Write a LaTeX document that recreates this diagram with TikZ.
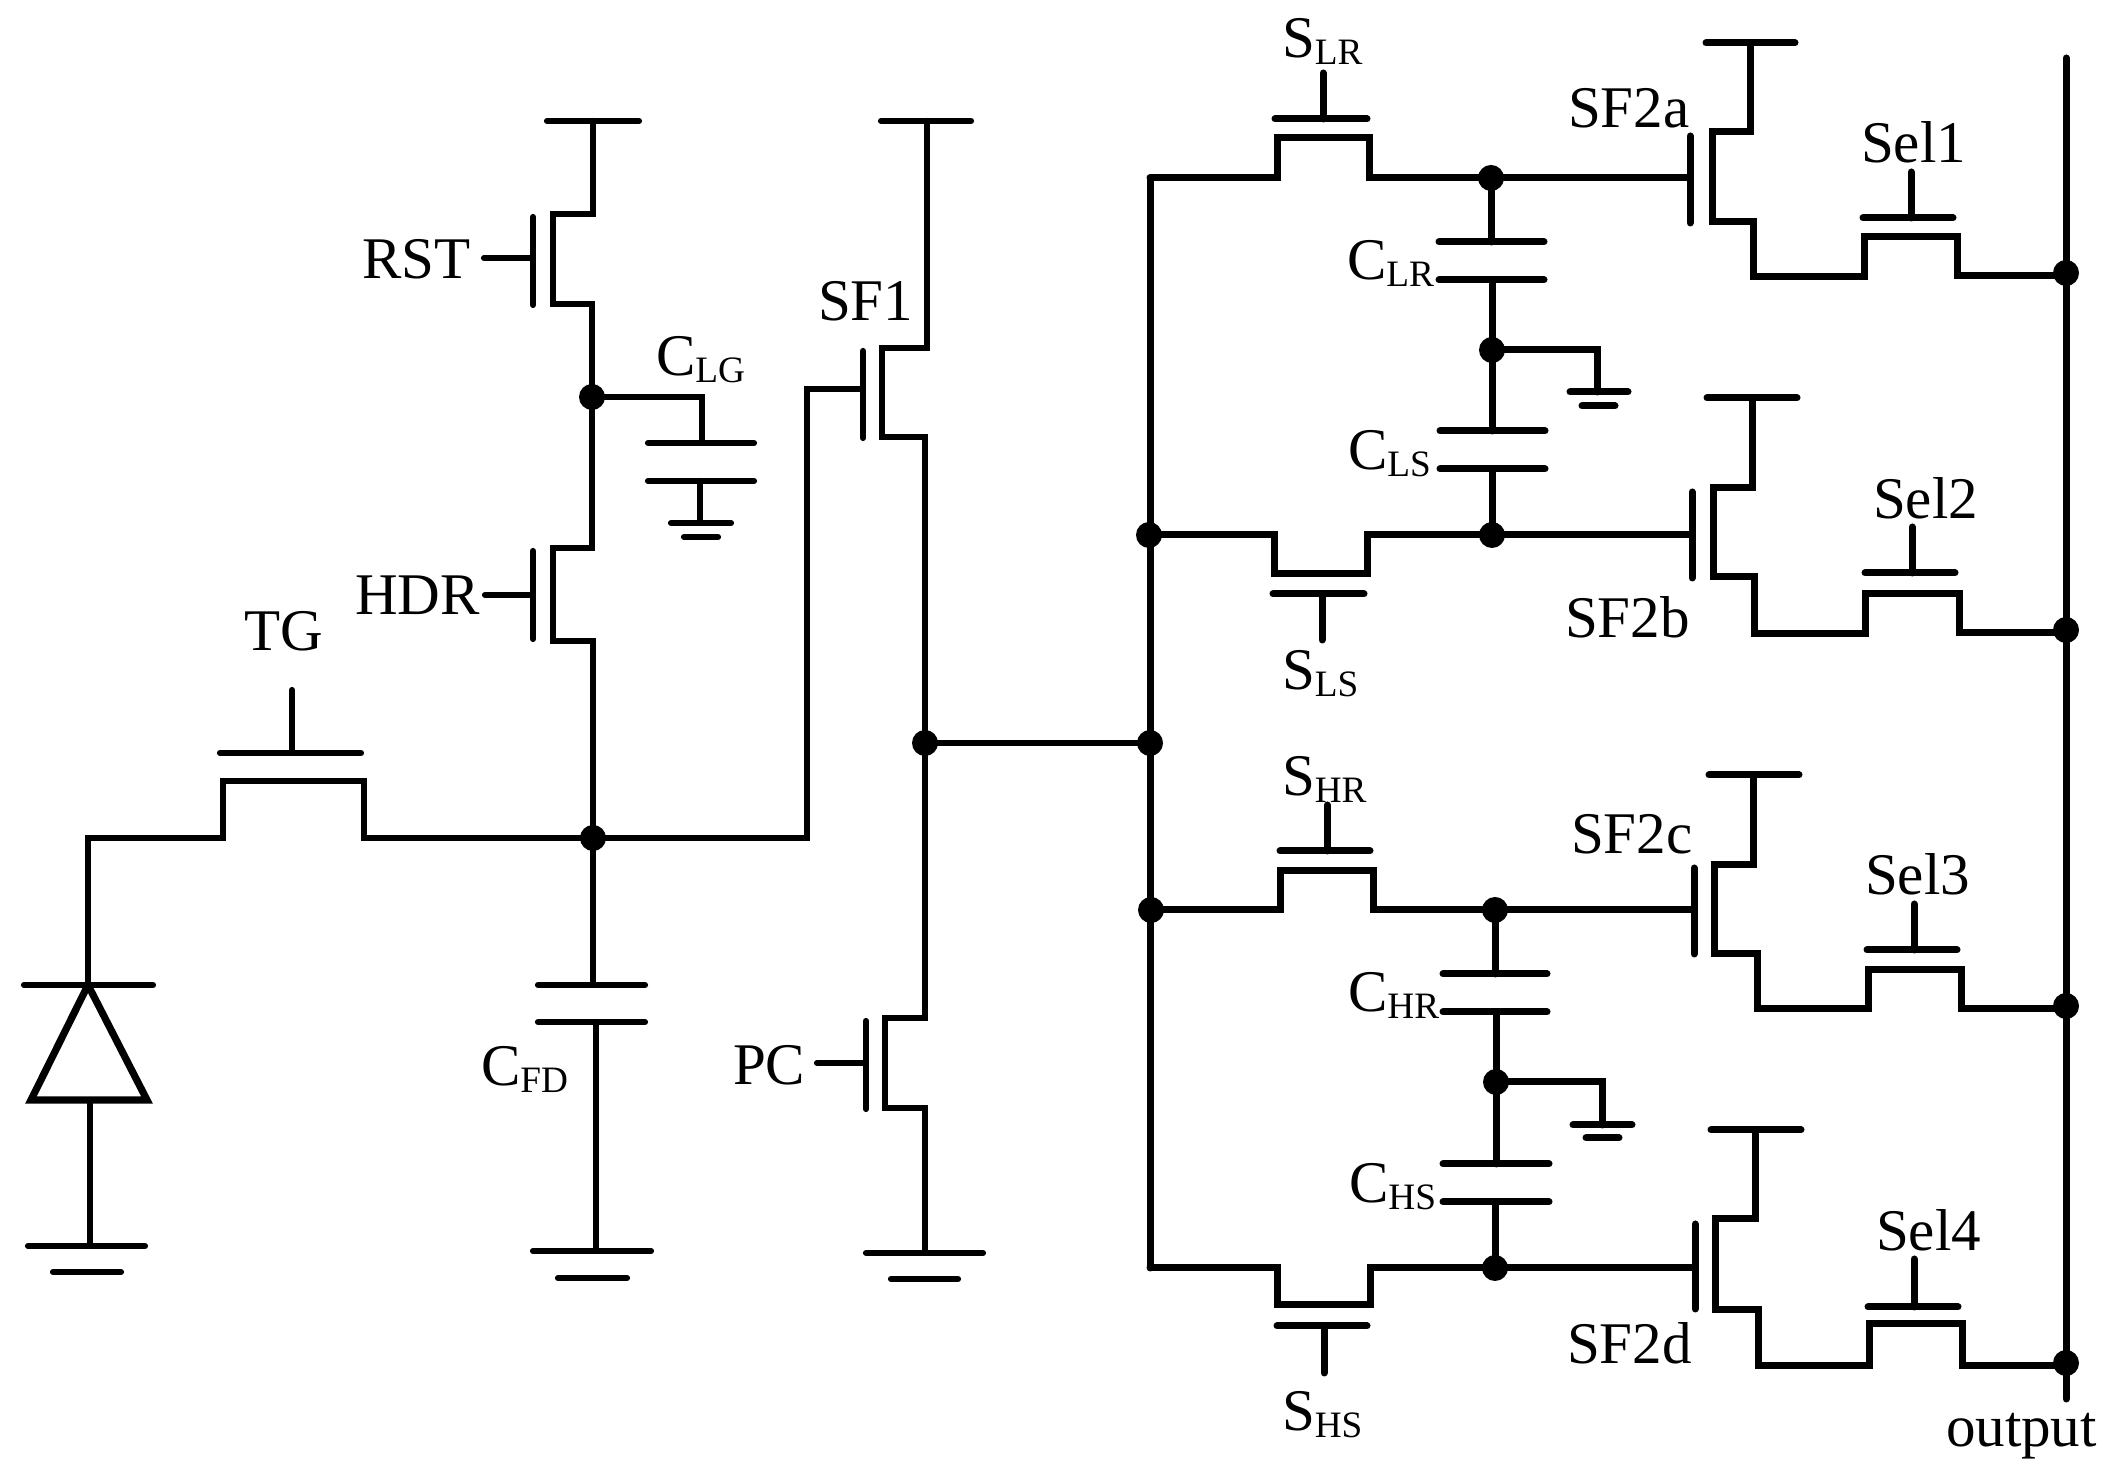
\documentclass[tikz,border=0pt]{standalone}
\usepackage{fontspec}
\setmainfont{Liberation Serif}
\newcommand{\lblsub}[2]{#1\raisebox{-1.9pt}{\fontsize{10.6}{11}\selectfont #2}}
\begin{document}
\begin{tikzpicture}[x=0.1mm,y=-0.1mm,
  wire/.style={line width=0.62mm,line cap=round,line join=miter,black},
  wirer/.style={line width=0.7mm,line cap=round,line join=miter,black},
  plate/.style={wire,shorten <=0.3mm,shorten >=0.3mm},
  plater/.style={wirer,shorten <=0.3mm,shorten >=0.3mm},
  dot/.style={circle,fill=black,draw=none,minimum size=2.6mm,inner sep=0pt},
  lbl/.style={anchor=base west,inner sep=0pt,outer sep=0pt,font=\fontsize{16.8}{18}\selectfont}]
\useasboundingbox (0,0) rectangle (2119,1469);
\fill[white] (0,0) rectangle (2119,1469);
% junctions
\node[dot] (fd) at (593,838) {};
\node[dot] (lg) at (592,397) {};
\node[dot] (pcn) at (925,743) {};
\node[dot] (busm) at (1150,743) {};
\node[dot] (bust) at (1149,535) {};
\node[dot] (busb) at (1151,910) {};
\node[dot] (lr) at (1491,178) {};
\node[dot] (gl) at (1492,350) {};
\node[dot] (ls) at (1492,535) {};
\node[dot] (hr) at (1495,910) {};
\node[dot] (gh) at (1496,1082) {};
\node[dot] (hs) at (1495,1268) {};
\node[dot] (o1) at (2066,273) {};
\node[dot] (o2) at (2066,630) {};
\node[dot] (o3) at (2066,1006) {};
\node[dot] (o4) at (2066,1363) {};
\coordinate (pdtop) at (88,985);
\coordinate (bustop) at (1150,178);
\coordinate (busend) at (1150,1268);
% photodiode
\draw[plate] (21,985) -- (156,985);
\draw[wire,line width=0.72mm,line join=miter] (pdtop) -- (147,1100) -- (31,1100) -- cycle;
\draw[wire] (90,1100) -- (90,1246);
\draw[plate] (25,1246) -- (148,1246);
\draw[plate] (50,1272) -- (124,1272);
% TG
\draw[wire] (pdtop) -- (88,838) -- (223,838) -- (223,781) -- (364,781) -- (364,838) -- (fd.center);
\draw[plate] (217,753) -- (364,753);
\draw[wire] (292,690) -- (292,753);
% CFD
\draw[wire] (fd.center) -- (593,985);
\draw[plate] (535,985) -- (648,985);
\draw[plate] (535,1022) -- (648,1022);
\draw[wire] (596,1022) -- (596,1251);
\draw[plate] (530,1251) -- (654,1251);
\draw[plate] (555,1278) -- (630,1278);
% RST
\draw[plate] (544,121) -- (642,121);
\draw[wire] (593,121) -- (593,214) -- (553,214) -- (553,304) -- (592,304) -- (lg.center);
\draw[plate] (533,214) -- (533,308);
\draw[wire] (484,258) -- (533,258);
% CLG
\draw[wire] (lg.center) -- (702,397) -- (702,443);
\draw[plate] (645,443) -- (757,443);
\draw[plate] (645,481) -- (757,481);
\draw[wire] (700,481) -- (700,523);
\draw[plate] (668,523) -- (734,523);
\draw[plate] (681,537) -- (721,537);
% HDR
\draw[wire] (lg.center) -- (592,548) -- (553,548) -- (553,641) -- (593,641) -- (fd.center);
\draw[plate] (533,548) -- (533,642);
\draw[wire] (485,595) -- (533,595);
% SF1
\draw[wire] (fd.center) -- (807,838) -- (807,389) -- (863,389);
\draw[plate] (863,348) -- (863,441);
\draw[plate] (878,121) -- (974,121);
\draw[wire] (927,121) -- (927,348) -- (882,348) -- (882,437) -- (925,437) -- (pcn.center);
% PC
\draw[wire] (pcn.center) -- (925,1018) -- (885,1018) -- (885,1108) -- (925,1108) -- (925,1253);
\draw[plate] (866,1018) -- (866,1112);
\draw[wire] (817,1063) -- (866,1063);
\draw[plate] (863,1253) -- (986,1253);
\draw[plate] (888,1279) -- (961,1279);
% bus
\draw[wire] (pcn.center) -- (busm.center);
\draw[wirer] (bustop) -- (busend);
% S_LR
\draw[wirer] (bustop) -- (1277,178) -- (1277,138) -- (1369,138) -- (1369,178) -- (lr.center) -- (1690,178);
\draw[plater] (1272,119) -- (1370,119);
\draw[wirer] (1323,73) -- (1323,119);
% C_LR C_LS
\draw[wirer] (lr.center) -- (1491,242);
\draw[plater] (1436,242) -- (1547,242);
\draw[plater] (1436,280) -- (1547,280);
\draw[wirer] (1492,280) -- (gl.center) -- (1492,431);
\draw[wirer] (gl.center) -- (1597,350) -- (1597,392);
\draw[plater] (1567,392) -- (1631,392);
\draw[plater] (1579,406) -- (1618,406);
\draw[plater] (1437,431) -- (1548,431);
\draw[plater] (1437,469) -- (1548,469);
\draw[wirer] (1492,469) -- (ls.center);
% S_LS
\draw[wirer] (bust.center) -- (1274,535) -- (1274,574) -- (1367,574) -- (1367,535) -- (ls.center) -- (1692,535);
\draw[plater] (1270,594) -- (1367,594);
\draw[wirer] (1322,594) -- (1322,640);
% SF2a
\draw[plater] (1690,133) -- (1690,226);
\draw[plater] (1703,43) -- (1798,43);
\draw[wirer] (1750,43) -- (1750,132) -- (1712,132) -- (1712,222) -- (1753,222) -- (1753,277) -- (1864,277) -- (1864,237) -- (1957,237) -- (1957,276) -- (o1.center |- 0,276);
\draw[plater] (1860,218) -- (1956,218);
\draw[wirer] (1911,172) -- (1911,218);
% SF2b
\draw[plater] (1692,489) -- (1692,581);
\draw[plater] (1704,398) -- (1800,398);
\draw[wirer] (1752,398) -- (1752,488) -- (1713,488) -- (1713,577) -- (1754,577) -- (1754,634) -- (1865,634) -- (1865,594) -- (1959,594) -- (1959,633) -- (o2.center |- 0,633);
\draw[plater] (1862,573) -- (1958,573);
\draw[wirer] (1912,527) -- (1912,573);
% S_HR
\draw[wirer] (busb.center) -- (1280,910) -- (1280,871) -- (1373,871) -- (1373,910) -- (hr.center) -- (1694,910);
\draw[plater] (1277,851) -- (1373,851);
\draw[wirer] (1327,805) -- (1327,851);
% C_HR C_HS
\draw[wirer] (hr.center) -- (1495,974);
\draw[plater] (1440,974) -- (1550,974);
\draw[plater] (1440,1012) -- (1550,1012);
\draw[wirer] (1496,1012) -- (gh.center) -- (1496,1164);
\draw[wirer] (gh.center) -- (1602,1082) -- (1602,1125);
\draw[plater] (1570,1125) -- (1635,1125);
\draw[plater] (1583,1138) -- (1622,1138);
\draw[plater] (1440,1164) -- (1552,1164);
\draw[plater] (1440,1202) -- (1552,1202);
\draw[wirer] (1495,1202) -- (hs.center);
% S_HS
\draw[wirer] (busend) -- (1277,1268) -- (1277,1305) -- (1370,1305) -- (1370,1268) -- (hs.center) -- (1695,1268);
\draw[plater] (1274,1326) -- (1370,1326);
\draw[wirer] (1324,1326) -- (1324,1373);
% SF2c
\draw[plater] (1694,865) -- (1694,957);
\draw[plater] (1706,775) -- (1802,775);
\draw[wirer] (1753,775) -- (1753,865) -- (1714,865) -- (1714,954) -- (1757,954) -- (1757,1009) -- (1868,1009) -- (1868,970) -- (1961,970) -- (1961,1009) -- (o3.center |- 0,1009);
\draw[plater] (1864,950) -- (1960,950);
\draw[wirer] (1914,904) -- (1914,950);
% SF2d
\draw[plater] (1695,1221) -- (1695,1312);
\draw[plater] (1708,1130) -- (1804,1130);
\draw[wirer] (1755,1130) -- (1755,1219) -- (1715,1219) -- (1715,1310) -- (1758,1310) -- (1758,1366) -- (1869,1366) -- (1869,1324) -- (1962,1324) -- (1962,1366) -- (o4.center |- 0,1366);
\draw[plater] (1865,1307) -- (1961,1307);
\draw[wirer] (1914,1259) -- (1914,1307);
% output
\draw[wirer] (2066,58) -- (o1.center) -- (o2.center) -- (o3.center) -- (o4.center) -- (2066,1399);
% labels
\node[lbl] (tRST) at (362,279) {RST};
\node[lbl] (tHDR) at (355,615) {HDR};
\node[lbl] (tTG) at (244,651) {TG};
\node[lbl] (tCLG) at (656,376) {\lblsub{C}{LG}};
\node[lbl] (tSF1) at (818,321) {SF1};
\node[lbl] (tCFD) at (481,1086) {\lblsub{C}{FD}};
\node[lbl] (tPC) at (733,1085) {PC};
\node[lbl] (tSLR) at (1282,58) {\lblsub{S}{LR}};
\node[lbl] (tSF2a) at (1568,128) {SF2a};
\node[lbl] (tSel1) at (1861,163) {Sel1};
\node[lbl] (tCLR) at (1347,280) {\lblsub{C}{LR}};
\node[lbl] (tCLS) at (1348,470) {\lblsub{C}{LS}};
\node[lbl] (tSF2b) at (1565,638) {SF2b};
\node[lbl] (tSel2) at (1873,519) {Sel2};
\node[lbl] (tSLS) at (1282,690) {\lblsub{S}{LS}};
\node[lbl] (tSHR) at (1282,796) {\lblsub{S}{HR}};
\node[lbl] (tSF2c) at (1571,854) {SF2c};
\node[lbl] (tSel3) at (1865,895) {Sel3};
\node[lbl] (tCHR) at (1348,1012) {\lblsub{C}{HR}};
\node[lbl] (tCHS) at (1349,1203) {\lblsub{C}{HS}};
\node[lbl] (tSF2d) at (1567,1364) {SF2d};
\node[lbl] (tSel4) at (1876,1251) {Sel4};
\node[lbl] (tSHS) at (1282,1431) {\lblsub{S}{HS}};
\node[lbl] (toutput) at (1946,1447) {output};
\end{tikzpicture}
\end{document}
